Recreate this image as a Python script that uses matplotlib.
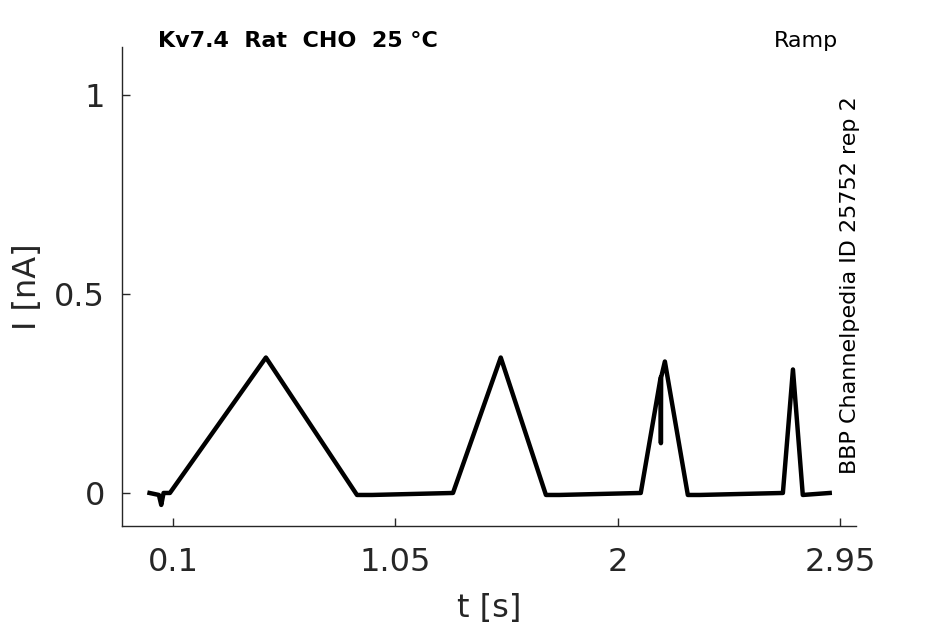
import matplotlib
matplotlib.use("Agg")
import matplotlib.pyplot as plt

# ramp protocol trace, breakpoints
t_s = [0.0, 0.04, 0.05, 0.06, 0.087, 0.497, 0.886, 0.95,
       1.296, 1.500, 1.693, 1.75,
       2.098, 2.183, 2.184, 2.185, 2.201, 2.299, 2.35,
       2.705, 2.748, 2.790, 2.905]
i_na = [0.0, -0.005, -0.03, 0.0, 0.0, 0.34, -0.005, -0.005,
        0.0, 0.34, -0.005, -0.005,
        0.0, 0.29, 0.125, 0.29, 0.33, -0.005, -0.005,
        0.0, 0.31, -0.005, 0.0]

x_ticks = [0.1, 1.05, 2, 2.95]
x_labels = ["0.1", "1.05", "2", "2.95"]
y_ticks = [0, 0.5, 1]
y_labels = ["0", "0.5", "1"]

txt = "#262626"

fig = plt.figure(figsize=(9.45, 6.24), dpi=100)
ax = fig.add_axes([0.129, 0.157, 0.777, 0.768])

ax.plot(t_s, i_na, color="black", linewidth=3.2, solid_joinstyle="round")

ax.set_xlim(-0.118, 3.018)
ax.set_ylim(-0.083, 1.12)
ax.set_xticks(x_ticks)
ax.set_xticklabels(x_labels)
ax.set_yticks(y_ticks)
ax.set_yticklabels(y_labels)

for side in ["top", "right"]:
    ax.spines[side].set_visible(False)
for side in ["left", "bottom"]:
    ax.spines[side].set_color(txt)
    ax.spines[side].set_linewidth(1.0)

ax.tick_params(direction="in", length=6, width=1, colors=txt,
               labelsize=23, pad=12)
ax.tick_params(axis="x", pad=15)
ax.set_xlabel("t [s]", fontsize=23, color=txt, labelpad=11)
ax.set_ylabel("I [nA]", fontsize=23, color=txt, labelpad=8)

fig.text(0.167, 0.925, "Kv7.4  Rat  CHO  25 °C", fontsize=16,
         fontweight="bold", color="black", va="baseline")
fig.text(0.887, 0.925, "Ramp", fontsize=16, color="black",
         ha="right", va="baseline")
fig.text(0.900, 0.845, "BBP Channelpedia ID 25752 rep 2", fontsize=16,
         rotation=90, ha="center", va="top", color="black")

fig.savefig("out.png", dpi=100)
